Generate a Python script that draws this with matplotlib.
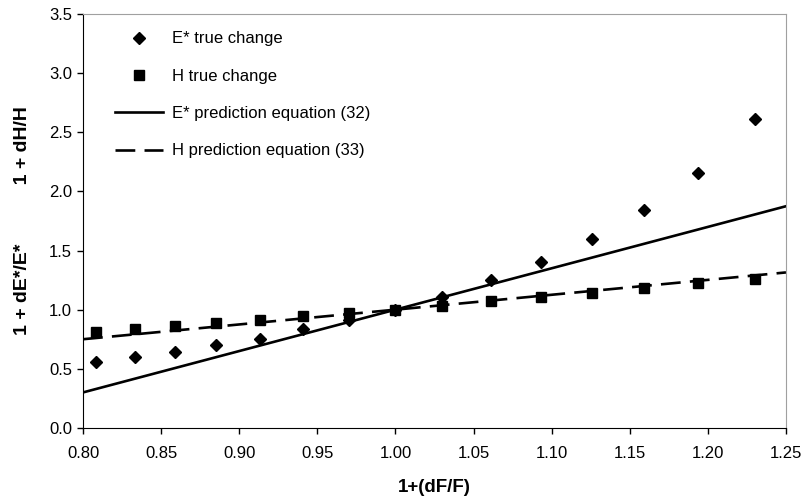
import matplotlib.pyplot as plt

plt.rcParams['font.family'] = ['Liberation Sans', 'DejaVu Sans']

# 1 + dF/F for each true-change point
x_true = [0.808, 0.833, 0.859, 0.885, 0.913, 0.941, 0.970, 1.000,
          1.030, 1.061, 1.093, 1.126, 1.159, 1.194, 1.230]
e_true = [0.56, 0.60, 0.645, 0.70, 0.75, 0.835, 0.91, 1.00,
          1.11, 1.25, 1.40, 1.595, 1.84, 2.16, 2.61]
h_true = [0.81, 0.835, 0.86, 0.885, 0.915, 0.95, 0.975, 1.00,
          1.035, 1.07, 1.105, 1.145, 1.18, 1.225, 1.26]

# prediction equations (32) and (33)
x_pred = [0.80, 1.00, 1.25]
e_pred = [0.30, 1.00, 1.875]
h_pred = [0.75, 1.00, 1.315]

x_ticks = [0.80, 0.85, 0.90, 0.95, 1.00, 1.05, 1.10, 1.15, 1.20, 1.25]
y_ticks = [0.0, 0.5, 1.0, 1.5, 2.0, 2.5, 3.0, 3.5]

fig = plt.figure(figsize=(8.02, 5.04), dpi=100)
ax = fig.add_axes([0.1035, 0.151, 0.8765, 0.821])

ax.plot(x_true, e_true, linestyle='none', marker='D', markersize=6,
        color='black', label='E* true change')
ax.plot(x_true, h_true, linestyle='none', marker='s', markersize=7,
        color='black', label='H true change')
ax.plot(x_pred, e_pred, color='black', linewidth=1.9,
        label='E* prediction equation (32)')
ax.plot(x_pred, h_pred, color='black', linewidth=1.9, dashes=(7.5, 3.5),
        label='H prediction equation (33)')

ax.set_xlim(0.80, 1.25)
ax.set_ylim(0.0, 3.5)
ax.set_xticks(x_ticks, [f'{v:.2f}' for v in x_ticks])
ax.set_yticks(y_ticks, [f'{v:.1f}' for v in y_ticks])
ax.tick_params(direction='out', length=4, width=1, labelsize=12)
ax.tick_params(axis='x', pad=9)
ax.tick_params(axis='y', pad=4)

for side in ('top', 'right'):
    ax.spines[side].set_color('#a0a0a0')
for side in ('left', 'bottom'):
    ax.spines[side].set_color('black')

ax.set_xlabel('1+(dF/F)', fontsize=13.5, fontweight='bold', labelpad=13)
ax.set_ylabel('1 + dE*/E*' + ' ' * 11 + '1 + dH/H', fontsize=14,
              fontweight='bold', labelpad=13)

ax.legend(loc='upper left', bbox_to_anchor=(0.0455, 0.958), frameon=False,
          fontsize=12, borderpad=0, borderaxespad=0, labelspacing=1.34,
          handlelength=2.9, handletextpad=0.5)

fig.savefig('out.png', dpi=100)
